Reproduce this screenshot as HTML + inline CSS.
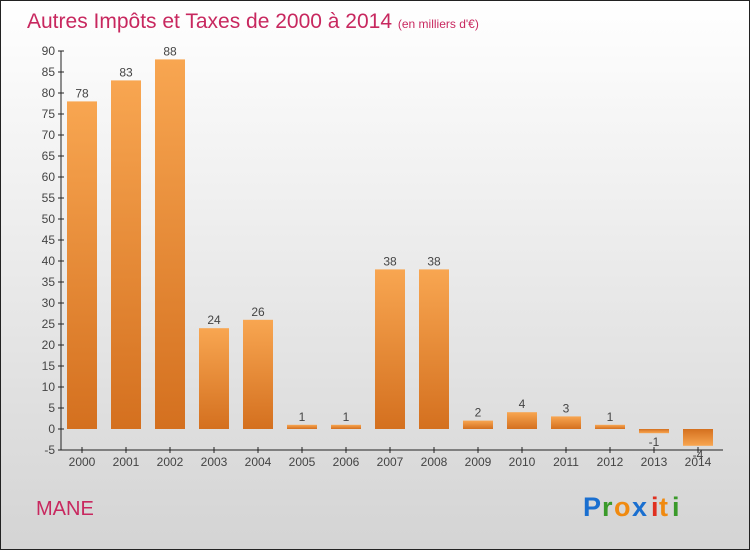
<!DOCTYPE html>
<html><head><meta charset="utf-8"><style>
body{margin:0}
#c{width:748px;height:548px;border:1px solid #222;background:linear-gradient(#ffffff,#d4d4d4);position:relative;font-family:"Liberation Sans",sans-serif}
</style></head><body>
<div id="c">
<svg width="748" height="548" id="svg">
<defs><linearGradient id="g" x1="0" y1="0" x2="0" y2="1"><stop offset="0" stop-color="#f8a651"/><stop offset="1" stop-color="#d4701f"/></linearGradient>
<linearGradient id="gn" x1="0" y1="0" x2="0" y2="1"><stop offset="0" stop-color="#d4701f"/><stop offset="1" stop-color="#f8a651"/></linearGradient></defs>
<text x="26" y="27" font-size="21" fill="#c8285f">Autres Impôts et Taxes de 2000 à 2014 <tspan font-size="12">(en milliers d'€)</tspan></text>
<g id="axes"></g><g id="bars"></g>
<text x="35" y="514" font-size="20" fill="#c8285f">MANE</text>
<g font-size="27" font-weight="bold">
<text x="582" y="515" fill="#1a6fd0">P</text><text x="601" y="515" fill="#3a9a2a">r</text><text x="613" y="515" fill="#f08a10">o</text><text x="631" y="515" fill="#1a6fd0">x</text><text x="650" y="515" fill="#e03020">i</text><text x="658" y="515" fill="#f08a10">t</text><text x="671" y="515" fill="#3a9a2a">i</text></g>
</svg></div>
<script>
const categories=["2000","2001","2002","2003","2004","2005","2006","2007","2008","2009","2010","2011","2012","2013","2014"];
const values=[78,83,88,24,26,1,1,38,38,2,4,3,1,-1,-4];
const yTicks=[-5,0,5,10,15,20,25,30,35,40,45,50,55,60,65,70,75,80,85,90];
const NS="http://www.w3.org/2000/svg";
function y(v){return 428-v*4.2;}
function x(i){return 81+i*44;}
function mk(t,a,p){const e=document.createElementNS(NS,t);for(const k in a)e.setAttribute(k,a[k]);p.appendChild(e);return e;}
const ax=document.getElementById('axes'),bs=document.getElementById('bars');
const yl=mk('line',{x1:60,x2:60,y1:y(90),y2:y(-5),stroke:'#222'},ax);


const xl=mk('line',{x1:60,x2:722,y1:y(-5),y2:y(-5),stroke:'#222'},ax);


yTicks.forEach(t=>{
 mk('line',{x1:57,x2:63,y1:y(t),y2:y(t),stroke:'#222'},ax);
 const tx=mk('text',{x:54,y:y(t)+4,'text-anchor':'end','font-size':12,fill:'#444'},ax);tx.textContent=t;
 
 
});
categories.forEach((c,i)=>{
 mk('line',{x1:x(i),x2:x(i),y1:y(-5)-3,y2:y(-5)+3,stroke:'#222'},ax);
 const tx=mk('text',{x:x(i),y:y(-5)+16,'text-anchor':'middle','font-size':12,fill:'#444'},ax);tx.textContent=c;
 
 
 const v=values[i],top=Math.min(y(v),y(0)),h=Math.abs(y(v)-y(0));
 const r=mk('rect',{x:x(i)-15,y:top,width:30,height:Math.max(h,1),fill:v<0?'url(#gn)':'url(#g)'},bs);
 
 
 const l=mk('text',{x:x(i),y:v<0?y(v)+13:y(v)-4,'text-anchor':'middle','font-size':12,fill:'#444'},bs);l.textContent=v;
 
 
});
</script>
</body></html>
